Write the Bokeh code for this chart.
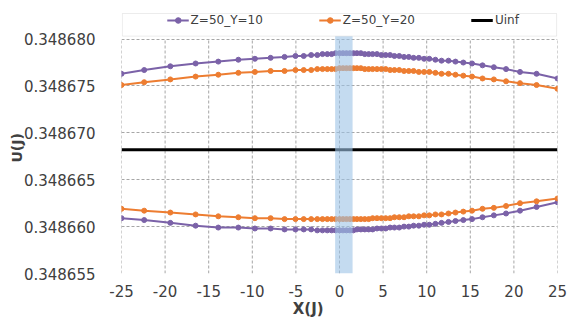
from bokeh.plotting import figure
from bokeh.models import (Range1d, FixedTicker, PrintfTickFormatter, Legend,
                          LegendItem, BoxAnnotation)
from bokeh.embed import file_html
from bokeh.resources import INLINE

# ---- data ----
x = [-25, -22.4, -19.4, -16.5, -13.9, -11.6, -9.7, -7.9, -6.3, -5.05,
     -4.1, -3.25, -2.55, -1.95, -1.4, -0.9, -0.45, 0.0, 0.4, 0.8,
     1.2, 1.6, 2.0, 2.45, 2.9, 3.35, 3.8, 4.3, 4.8, 5.3,
     5.8, 6.3, 6.85, 7.4, 7.95, 8.5, 9.1, 9.7, 10.3, 11.0,
     11.7, 12.5, 13.3, 14.2, 15.2, 16.4, 17.7, 19.1, 20.7, 22.6, 25]

y10_upper = [0.3486763, 0.3486767, 0.3486771, 0.3486774, 0.3486776, 0.3486778, 0.3486779, 0.3486780, 0.3486781, 0.3486782,
             0.3486782, 0.3486783, 0.3486783, 0.3486784, 0.3486784, 0.3486784, 0.3486785, 0.3486785, 0.3486785, 0.3486785,
             0.3486785, 0.3486785, 0.3486785, 0.3486785, 0.3486784, 0.3486784, 0.3486784, 0.3486784, 0.3486783, 0.3486783,
             0.3486783, 0.3486782, 0.3486782, 0.3486781, 0.3486781, 0.3486780, 0.3486780, 0.3486779, 0.3486779, 0.3486778,
             0.3486777, 0.3486777, 0.3486776, 0.3486775, 0.3486774, 0.3486772, 0.3486770, 0.3486768, 0.3486765, 0.3486763, 0.3486758]

y20_upper = [0.3486751, 0.3486754, 0.3486757, 0.3486760, 0.3486762, 0.3486764, 0.3486765, 0.3486766, 0.3486766, 0.3486767,
             0.3486767, 0.3486767, 0.3486768, 0.3486768, 0.3486768, 0.3486768, 0.3486768, 0.3486769, 0.3486769, 0.3486769,
             0.3486769, 0.3486769, 0.3486769, 0.3486769, 0.3486768, 0.3486768, 0.3486768, 0.3486768, 0.3486768, 0.3486768,
             0.3486767, 0.3486767, 0.3486767, 0.3486766, 0.3486766, 0.3486766, 0.3486765, 0.3486765, 0.3486765, 0.3486764,
             0.3486763, 0.3486763, 0.3486762, 0.3486761, 0.3486760, 0.3486758, 0.3486757, 0.3486755, 0.3486753, 0.3486751, 0.3486747]

y10_lower = [0.3486609, 0.3486607, 0.3486604, 0.3486601, 0.3486599, 0.3486599, 0.3486598, 0.3486598, 0.3486597, 0.3486597,
             0.3486597, 0.3486597, 0.3486596, 0.3486596, 0.3486596, 0.3486596, 0.3486596, 0.3486596, 0.3486596, 0.3486596,
             0.3486596, 0.3486596, 0.3486597, 0.3486597, 0.3486597, 0.3486597, 0.3486597, 0.3486598, 0.3486598, 0.3486598,
             0.3486599, 0.3486599, 0.3486599, 0.3486600, 0.3486600, 0.3486601, 0.3486601, 0.3486602, 0.3486602, 0.3486603,
             0.3486604, 0.3486605, 0.3486606, 0.3486607, 0.3486608, 0.3486610, 0.3486612, 0.3486614, 0.3486617, 0.3486621, 0.3486626]

y20_lower = [0.3486619, 0.3486617, 0.3486615, 0.3486613, 0.3486611, 0.3486610, 0.3486609, 0.3486609, 0.3486608, 0.3486608,
             0.3486608, 0.3486608, 0.3486608, 0.3486608, 0.3486608, 0.3486608, 0.3486608, 0.3486608, 0.3486608, 0.3486608,
             0.3486608, 0.3486608, 0.3486608, 0.3486608, 0.3486608, 0.3486608, 0.3486609, 0.3486609, 0.3486609, 0.3486609,
             0.3486609, 0.3486610, 0.3486610, 0.3486610, 0.3486611, 0.3486611, 0.3486611, 0.3486612, 0.3486612, 0.3486613,
             0.3486613, 0.3486614, 0.3486615, 0.3486616, 0.3486617, 0.3486619, 0.3486620, 0.3486622, 0.3486625, 0.3486627, 0.3486630]

uinf_x = [-25, 25]
uinf_y = [0.3486682, 0.3486682]

series_names = ["Z=50_Y=10", "Z=50_Y=20", "Uinf"]
x_ticks = [-25, -20, -15, -10, -5, 0, 5, 10, 15, 20, 25]
y_ticks = [0.348655, 0.348660, 0.348665, 0.348670, 0.348675, 0.348680]
band_x = [-0.5, 1.5]

# ---- styling ----
PURPLE = "#7b62a8"
ORANGE = "#ed7d31"
GRID = "#a6a6a6"
TXT = "#404040"
FONT = "DejaVu Sans"
NB = "\u00a0"

# frame extends 27px above the plot area to host the legend (plot area is 238px tall)
y_lo, y_hi = y_ticks[0], y_ticks[-1]
span = y_hi - y_lo
y_top = y_hi + span * 27.0 / 238.0
band_top = y_hi + span * 7.0 / 238.0
leg_top = y_hi + span * 26.0 / 238.0
leg_bottom = y_hi + span * 3.0 / 238.0

p = figure(width=573, height=320, output_backend="svg", toolbar_location=None,
           x_range=Range1d(x_ticks[0], x_ticks[-1]), y_range=Range1d(y_lo, y_top),
           min_border_left=121, min_border_right=16, min_border_top=12,
           min_border_bottom=43, background_fill_color="white",
           border_fill_color="white")
p.outline_line_color = None

p.xaxis.ticker = FixedTicker(ticks=x_ticks)
p.xaxis.formatter = PrintfTickFormatter(format="%d")
p.yaxis.ticker = FixedTicker(ticks=y_ticks)
p.yaxis.formatter = PrintfTickFormatter(format="%.6f")
for ax in (p.xaxis, p.yaxis):
    ax.axis_line_color = None
    ax.major_tick_line_color = None
    ax.minor_tick_line_color = None
    ax.major_label_text_font = FONT
    ax.major_label_text_font_size = "15px"
    ax.major_label_text_color = TXT
    ax.axis_label_text_font = FONT
    ax.axis_label_text_font_style = "bold"
    ax.axis_label_text_color = TXT
p.xaxis.major_label_standoff = 5
p.yaxis.major_label_standoff = 20

p.yaxis.axis_label = "U(J)" + NB * 2
p.yaxis.axis_label_text_font_size = "14px"
p.yaxis.axis_label_standoff = -4
p.xaxis.axis_label = "X(J)" + NB * 12
p.xaxis.axis_label_text_font_size = "15px"
p.xaxis.axis_label_standoff = 0

# horizontal grid from the library; vertical grid drawn only over the plot area
p.ygrid.ticker = FixedTicker(ticks=y_ticks)
p.ygrid.grid_line_color = GRID
p.ygrid.grid_line_dash = "3 2"
p.ygrid.grid_line_width = 1
p.xgrid.visible = False
p.segment(x0=x_ticks, y0=[y_lo] * len(x_ticks), x1=x_ticks, y1=[y_hi] * len(x_ticks),
          line_color=GRID, line_dash="3 2", line_width=1)

r10a = p.line(x, y10_upper, line_color=PURPLE, line_width=2)
r10b = p.line(x, y10_lower, line_color=PURPLE, line_width=2)
s10a = p.scatter(x, y10_upper, size=5, color=PURPLE)
s10b = p.scatter(x, y10_lower, size=5, color=PURPLE)
r20a = p.line(x, y20_upper, line_color=ORANGE, line_width=2)
r20b = p.line(x, y20_lower, line_color=ORANGE, line_width=2)
s20a = p.scatter(x, y20_upper, size=5, color=ORANGE)
s20b = p.scatter(x, y20_lower, size=5, color=ORANGE)
ru = p.line(uinf_x, uinf_y, line_color="black", line_width=3)
r_blank = p.line(uinf_x, uinf_y, line_alpha=0)

band = BoxAnnotation(left=band_x[0], right=band_x[1], top=band_top,
                     fill_color="#9dc3e6", fill_alpha=0.6, line_color=None)
p.add_layout(band)

legend_frame = BoxAnnotation(left=x_ticks[0] + 0.1, right=x_ticks[-1] - 0.1,
                             top=leg_top, bottom=leg_bottom,
                             fill_color="white", fill_alpha=1.0,
                             line_color="#bfbfbf", line_width=1)
p.add_layout(legend_frame)

legend = Legend(items=[LegendItem(label=NB, renderers=[r_blank]),
                       LegendItem(label=series_names[0] + NB * 11, renderers=[r10a, s10a]),
                       LegendItem(label=series_names[1] + NB * 11, renderers=[r20a, s20a]),
                       LegendItem(label=series_names[2] + NB * 9, renderers=[ru])],
                orientation="horizontal", location="top_center",
                glyph_width=22, glyph_height=14, label_height=14,
                label_width=0, label_standoff=2, spacing=14,
                padding=4, margin=1, label_text_font=FONT,
                label_text_font_size="12px", label_text_color=TXT,
                border_line_color=None, background_fill_alpha=0.0)
p.add_layout(legend, "center")

open("out.html", "w").write(file_html(p, INLINE))
